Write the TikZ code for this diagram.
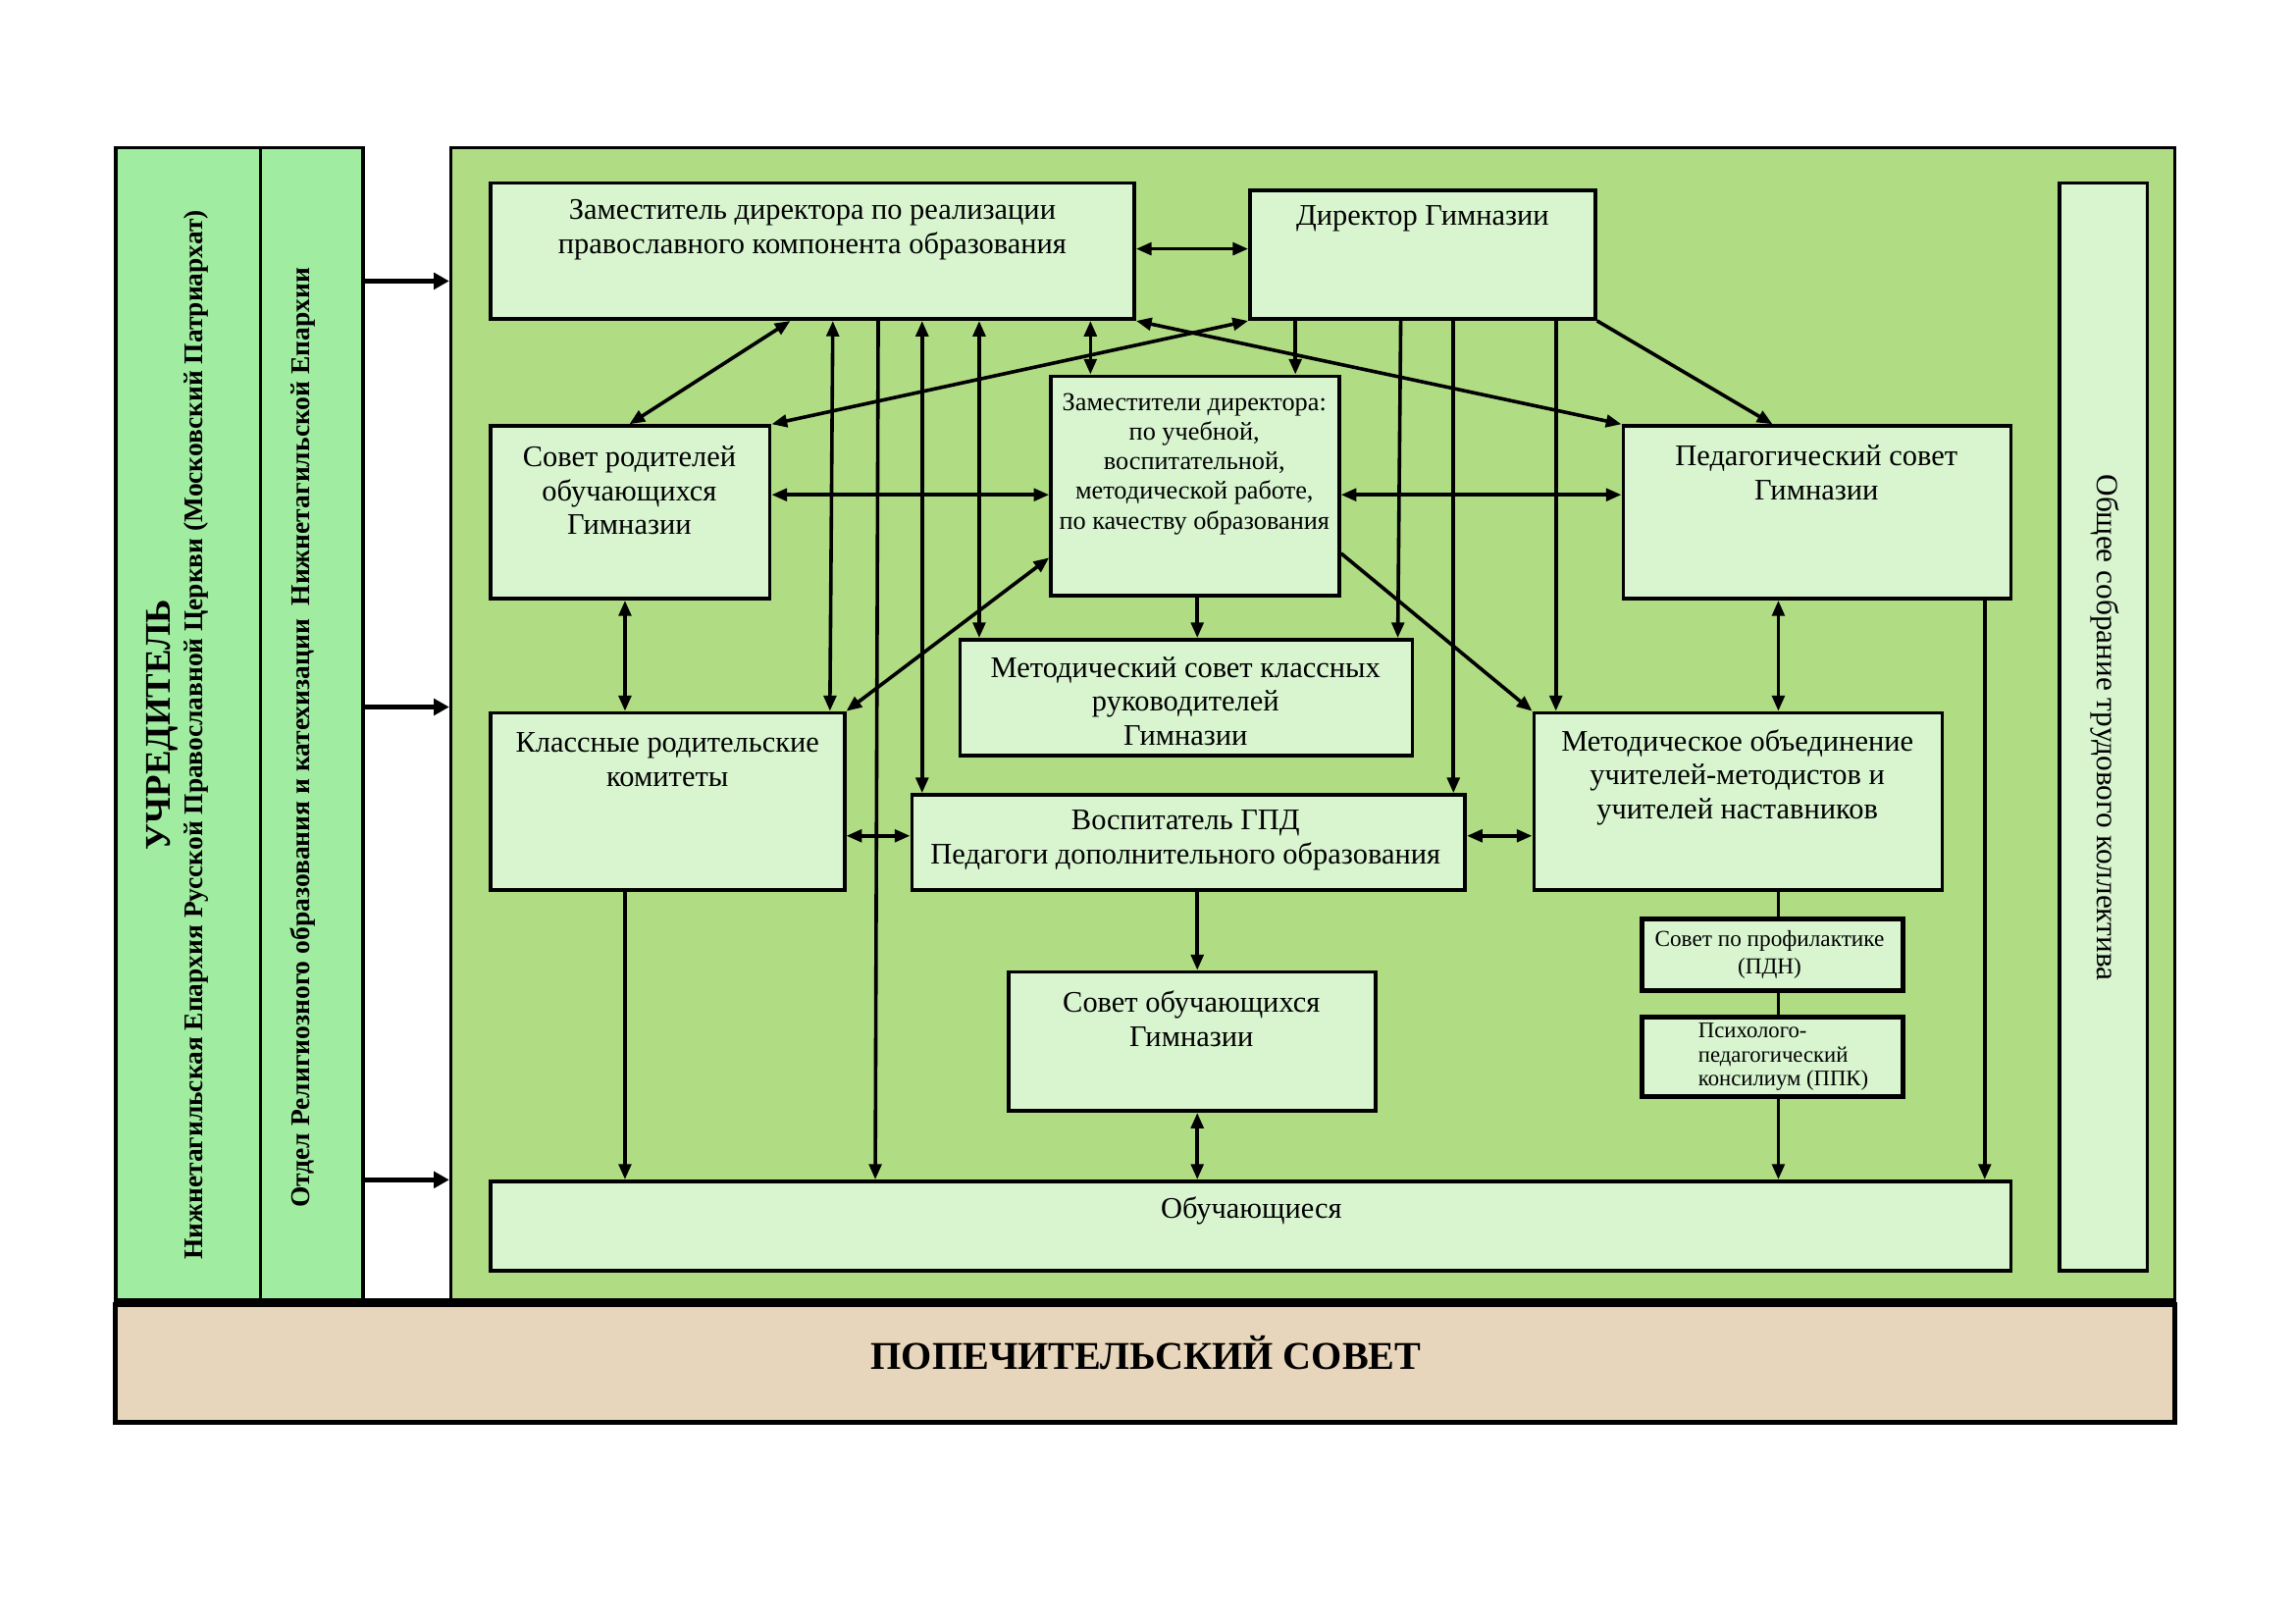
\documentclass[tikz,border=0pt]{standalone}
\usepackage{fontspec}
\setmainfont{Liberation Serif}
\usetikzlibrary{arrows.meta,fit}
\definecolor{leftg}{RGB}{160,236,160}
\definecolor{maing}{RGB}{176,220,132}
\definecolor{boxg}{RGB}{216,245,208}
\definecolor{beigec}{RGB}{232,214,188}
\tikzset{
  panel/.style={draw, line width=1.2pt, inner sep=0pt},
  box/.style={draw, line width=1.3pt, fill=boxg, inner sep=0pt},
  tbox/.style={box, line width=1.8pt},
  txt/.style={inner sep=0pt, align=center, font=\fontsize{11}{12.4}\selectfont},
  stxt/.style={inner sep=0pt, align=center, font=\fontsize{9.5}{10.9}\selectfont},
  sstxt/.style={inner sep=0pt, align=center, font=\fontsize{8.4}{10.2}\selectfont},
  con/.style={line width=1.3pt},
  ar/.style={con, -{Triangle[length=2mm,width=1.6mm]}},
  dar/.style={con, {Triangle[length=2mm,width=1.6mm]}-{Triangle[length=2mm,width=1.6mm]}},
  bigar/.style={line width=1.8pt, -{Triangle[length=2mm,width=2.1mm]}},
}
\begin{document}
\begin{tikzpicture}[x=0.18941mm,y=-0.18941mm]
\useasboundingbox (0,0) rectangle (1568,1109);
\fill[white] (0,0) rectangle (1568,1109);

% panels
\node[panel, fill=leftg, fit={(79,101)(178,888)}] (lp1) {};
\node[panel, fill=leftg, fit={(178,101)(248,888)}] (lp2) {};
\node[panel, fill=maing, fit={(308,101)(1486,888)}] (mainp) {};
\node[panel, fill=beigec, line width=1.8pt, fit={(79,891)(1486,972)}] (pop) {};
\draw[line width=2.2pt] (lp1.south west) -- (mainp.south east);

\node[inner sep=0pt, font=\bfseries\fontsize{14.5}{16}\selectfont] (popt) at (783,924) {ПОПЕЧИТЕЛЬСКИЙ СОВЕТ};

% left texts
\node[rotate=90, inner sep=0pt, font=\bfseries\fontsize{13.3}{14}\selectfont] (uchr) at (111,495) {УЧРЕДИТЕЛЬ};
\node[rotate=90, inner sep=0pt, font=\bfseries\fontsize{9.9}{12}\selectfont] (eparh) at (134,502)
  {Нижнетагильская Епархия Русской Православной Церкви (Московский Патриархат)};
\node[rotate=90, inner sep=0pt, font=\bfseries\fontsize{9.95}{12}\selectfont] (otd) at (207,504)
  {Отдел Религиозного образования и катехизации\ \ Нижнетагильской Епархии};

% left arrows
\draw[bigar] (lp2.east |- 0,192) -- (mainp.west |- 0,192);
\draw[bigar] (lp2.east |- 0,483) -- (mainp.west |- 0,483);
\draw[bigar] (lp2.east |- 0,806) -- (mainp.west |- 0,806);

% boxes
\node[box, fit={(1407,125)(1467,868)}] (osc) {};
\node[rotate=-90, inner sep=0pt, font=\fontsize{11.3}{13}\selectfont] (osct) at (1438,497) {Общее собрание трудового коллектива};

\node[box, fit={(335,125)(775,218)}] (zr) {};
\node[txt] (zrt) at (555,157) {Заместитель директора по реализации\\православного компонента образования};

\node[box, fit={(854,130)(1090,218)}] (dir) {};
\node[txt] (dirt) at (972,149) {Директор Гимназии};

\node[box, fit={(718,257)(915,407)}] (zams) {};
\node[stxt] (zamst) at (816,317) {Заместители директора:\\по учебной,\\воспитательной,\\методической работе,\\по качеству образования};

\node[box, fit={(335,291)(526,409)}] (spr) {};
\node[txt] (sprt) at (430,335) {Совет родителей\\обучающихся\\Гимназии};

\node[box, fit={(1109,291)(1374,409)}] (ped) {};
\node[txt] (pedt) at (1241,323) {Педагогический совет\\Гимназии};

\node[box, fit={(656,437)(965,516)}] (msk) {};
\node[txt] (mskt) at (810,479) {Методический совет классных\\руководителей\\Гимназии};

\node[box, fit={(335,487)(577,608)}] (krk) {};
\node[txt] (krkt) at (456,519) {Классные родительские\\комитеты};

\node[box, fit={(623,543)(1001,608)}] (vos) {};
\node[txt] (vost) at (810,574) {Воспитатель ГПД\\Педагоги дополнительного образования};

\node[box, fit={(1048,487)(1327,608)}] (mo) {};
\node[txt] (mot) at (1187,531) {Методическое объединение\\учителей-методистов и\\учителей наставников};

\node[tbox, fit={(1122,628)(1300,677)}] (pdn) {};
\node[sstxt] (pdnt) at (1209,652) {Совет по профилактике\\(ПДН)};

\node[tbox, fit={(1122,695)(1300,749)}] (ppk) {};
\node[inner sep=0pt, align=left, anchor=west, font=\fontsize{8.2}{8.8}\selectfont] (ppkt) at (1160,722) {Психолого-\\педагогический\\консилиум (ППК)};

\node[box, fit={(689,664)(940,759)}] (sob) {};
\node[txt] (sobt) at (814,696) {Совет обучающихся\\Гимназии};

\node[box, fit={(335,807)(1374,868)}] (obu) {};
\node[txt] (obut) at (855,827) {Обучающиеся};

% connectors
\draw[dar] (zr.east |- 0,170) -- (dir.west |- 0,170);
\draw[dar] (zr.south -| 540,0) -- (spr.north -| 430,0);
\draw[dar] (dir.south west) -- (spr.north east);
\draw[dar] (zr.south east) -- (ped.north west);
\draw[dar] (zr.south -| 745,0) -- (zams.north -| 745,0);
\draw[ar] (dir.south -| 885,0) -- (zams.north -| 885,0);
\draw[dar] (zr.south -| 569,0) -- (krk.north -| 567,0);
\draw[ar] (zr.south -| 600,0) -- (obu.north -| 598,0);
\draw[dar] (zr.south -| 630,0) -- (vos.north -| 630,0);
\draw[dar] (zr.south -| 669,0) -- (msk.north -| 669,0);
\draw[dar] (zams.west |- 0,381) -- (krk.north east);
\draw[dar] (spr.east |- 0,338) -- (zams.west |- 0,338);
\draw[dar] (zams.east |- 0,338) -- (ped.west |- 0,338);
\draw[dar] (spr.south -| 427,0) -- (krk.north -| 427,0);
\draw[ar] (zams.south -| 818,0) -- (msk.north -| 818,0);
\draw[ar] (zams.east |- 0,378) -- (mo.north west);
\draw[ar] (dir.south -| 957,0) -- (msk.north -| 955,0);
\draw[ar] (dir.south -| 993,0) -- (vos.north -| 993,0);
\draw[ar] (dir.south -| 1063,0) -- (mo.north -| 1063,0);
\draw[ar] (dir.south east) -- (ped.north -| 1211,0);
\draw[dar] (ped.south -| 1215,0) -- (mo.north -| 1215,0);
\draw[ar] (ped.south -| 1356,0) -- (obu.north -| 1356,0);
\draw[dar] (krk.east |- 0,571) -- (vos.west |- 0,571);
\draw[dar] (vos.east |- 0,571) -- (mo.west |- 0,571);
\draw[ar] (krk.south -| 427,0) -- (obu.north -| 427,0);
\draw[ar] (vos.south -| 818,0) -- (sob.north -| 818,0);
\draw[dar] (sob.south -| 818,0) -- (obu.north -| 818,0);
\draw[con] (mo.south -| 1215,0) -- (pdn.north -| 1215,0);
\draw[con] (pdn.south -| 1215,0) -- (ppk.north -| 1215,0);
\draw[ar] (ppk.south -| 1215,0) -- (obu.north -| 1215,0);
\end{tikzpicture}
\end{document}
